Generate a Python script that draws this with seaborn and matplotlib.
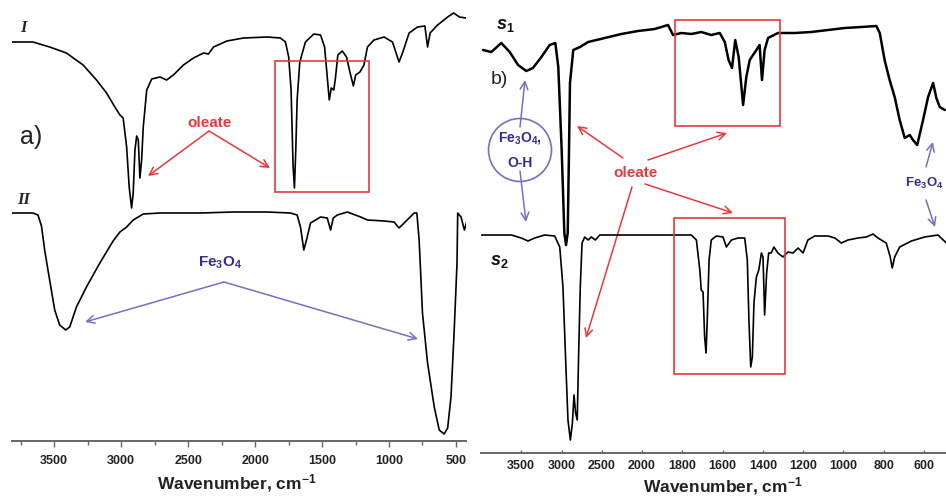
import numpy as np
import matplotlib
matplotlib.use("Agg")
import matplotlib.pyplot as plt
import seaborn as sns
from matplotlib.patches import Rectangle, Ellipse
from matplotlib.ticker import MultipleLocator

# panel a) spectrum I (oleate coated) and II (bare Fe3O4); wavenumber cm-1, transmittance a.u.
wn_I = [3820, 3659, 3534, 3409, 3284, 3184, 3109, 3047, 3009, 2985,
        2959, 2940, 2922, 2910, 2897, 2884, 2872, 2860, 2847, 2835,
        2809, 2772, 2710, 2660, 2610, 2535, 2460, 2385, 2348, 2310,
        2210, 2086, 1910, 1811, 1773, 1749, 1731, 1716, 1706, 1696,
        1686, 1666, 1624, 1561, 1511, 1481, 1461, 1446, 1431, 1412,
        1399, 1382, 1349, 1317, 1292, 1266, 1249, 1217, 1187, 1161,
        1112, 1037, 974, 925, 899, 850, 787, 732, 712, 693,
        637, 562, 517, 475, 425]
tr_I = [399, 399, 394, 388, 376, 361, 348, 334, 326, 323,
        294, 254, 233, 248, 291, 305, 301, 263, 281, 314,
        351, 362, 364, 361, 366, 376, 383, 388, 387, 394,
        400, 403, 404, 403, 399, 384, 351, 274, 253, 291,
        341, 379, 399, 407, 406, 394, 364, 341, 353, 351,
        364, 386, 390, 384, 369, 355, 366, 369, 376, 394,
        401, 404, 399, 379, 388, 408, 414, 415, 394, 408,
        416, 424, 428, 424, 423]

wn_II = [3820, 3659, 3621, 3595, 3570, 3534, 3496, 3459, 3414, 3384,
         3334, 3259, 3159, 3060, 3009, 2959, 2910, 2835, 2710, 2410,
         2161, 1910, 1736, 1686, 1661, 1636, 1616, 1586, 1511, 1461,
         1436, 1416, 1386, 1311, 1212, 1161, 1037, 962, 925, 887,
         812, 792, 775, 767, 750, 712, 662, 625, 588, 562,
         537, 513, 492, 487, 462, 437, 420]
tr_II = [228, 228, 226, 215, 190, 161, 131, 116, 111, 114,
         134, 154, 178, 200, 209, 214, 221, 227, 228, 228,
         229, 229, 228, 226, 214, 191, 201, 218, 224, 223,
         211, 223, 226, 229, 224, 221, 220, 219, 213, 218,
         228, 228, 201, 178, 128, 78, 34, 11, 7, 13,
         44, 111, 178, 228, 224, 211, 219]

# panel b) spectra s1 and s2
wn_s1 = [3975, 3872, 3748, 3643, 3540, 3437, 3355, 3250, 3147, 3077,
         3040, 2998, 2965, 2944, 2923, 2907, 2895, 2854, 2770, 2670,
         2462, 2257, 2050, 1937, 1871, 1846, 1805, 1755, 1706, 1656,
         1614, 1589, 1570, 1553, 1537, 1520, 1498, 1482, 1465, 1432,
         1416, 1404, 1391, 1374, 1325, 1242, 1159, 1076, 993, 911,
         836, 819, 795, 770, 745, 720, 695, 670, 654, 633,
         604, 579, 554, 538, 521, 496]
tr_s1 = [403, 401, 410, 401, 388, 382, 385, 396, 408, 410,
         386, 303, 220, 208, 220, 303, 370, 403, 406, 411,
         415, 419, 422, 424, 428, 418, 420, 419, 421, 418,
         420, 411, 393, 385, 413, 396, 348, 376, 393, 403,
         408, 373, 403, 415, 420, 420, 421, 423, 425, 426,
         427, 420, 393, 373, 356, 333, 315, 318, 313, 308,
         333, 356, 370, 355, 346, 343]

wn_s2 = [3995, 3622, 3500, 3417, 3333, 3210, 3085, 3022, 2982, 2952,
         2920, 2890, 2865, 2845, 2825, 2805, 2787, 2767, 2745, 2712,
         2670, 2630, 2580, 2525, 1987, 1755, 1730, 1713, 1706, 1697,
         1689, 1682, 1676, 1667, 1656, 1631, 1598, 1581, 1556, 1523,
         1490, 1477, 1469, 1460, 1452, 1444, 1432, 1420, 1407, 1399,
         1391, 1381, 1371, 1358, 1345, 1325, 1300, 1275, 1250, 1225,
         1200, 1176, 1142, 1076, 1042, 1010, 977, 927, 886, 853,
         828, 787, 767, 757, 745, 720, 662, 596, 530, 488]
tr_s2 = [218, 218, 215, 212, 215, 218, 217, 206, 166, 100,
         33, 13, 30, 58, 40, 33, 100, 166, 210, 216,
         213, 216, 213, 218, 218, 218, 213, 183, 163, 161,
         116, 100, 133, 193, 213, 217, 216, 206, 213, 215,
         215, 193, 133, 86, 96, 150, 176, 183, 200, 196,
         138, 180, 200, 200, 206, 200, 196, 201, 200, 205,
         200, 213, 217, 217, 215, 210, 213, 215, 216, 219,
         215, 210, 196, 185, 196, 206, 212, 216, 218, 210]

ticks_a = [3500, 3000, 2500, 2000, 1500, 1000, 500]
ticks_b = [3500, 3000, 2500, 2000, 1800, 1600, 1400, 1200, 1000, 800, 600]

sns.set_style("white")
plt.rcParams['font.family'] = ['Liberation Sans', 'DejaVu Sans']
plt.rcParams['mathtext.fontset'] = 'custom'
plt.rcParams['mathtext.rm'] = 'Liberation Sans:bold'
plt.rcParams['mathtext.it'] = 'Liberation Sans:italic:bold'
plt.rcParams['mathtext.bf'] = 'Liberation Sans:bold'

W, H = 946, 497
RED = '#e8383d'
PURPLE = '#3a2a8c'
PURPLE_ARROW = '#7a6cc4'


def fp(x, y):
    # image pixel position -> figure fraction
    return (x / W, 1 - y / H)


fig = plt.figure(figsize=(9.46, 4.97), dpi=100)
ax1 = fig.add_axes([12 / W, 1 - 441 / H, 454 / W, 431 / H])
ax2 = fig.add_axes([481 / W, 1 - 453 / H, 465 / W, 443 / H])

sns.lineplot(x=wn_I, y=tr_I, sort=False, estimator=None, ax=ax1, color='black', lw=1.2)
sns.lineplot(x=wn_II, y=tr_II, sort=False, estimator=None, ax=ax1, color='black', lw=1.2)
sns.lineplot(x=wn_s1, y=tr_s1, sort=False, estimator=None, ax=ax2, color='black', lw=1.8)
sns.lineplot(x=wn_s2, y=tr_s2, sort=False, estimator=None, ax=ax2, color='black', lw=1.2)


# panel b uses an expanded scale below 2000 cm-1
def fwd(w):
    w = np.asarray(w, dtype=float)
    return np.where(w > 2000, 2000 + (w - 2000) * 0.4, w)


def inv(t):
    t = np.asarray(t, dtype=float)
    return np.where(t > 2000, 2000 + (t - 2000) / 0.4, t)


ax2.set_xscale('function', functions=(fwd, inv))

ax1.set_xlim(3815, 425)
ax1.set_ylim(0, 431)
ax2.set_xlim(4000, 490)
ax2.set_ylim(0, 443)

ax1.set_xticks(ticks_a)
ax1.xaxis.set_minor_locator(MultipleLocator(250))
ax2.set_xticks(ticks_b)
ax2.xaxis.set_minor_locator(plt.NullLocator())

for ax in (ax1, ax2):
    ax.set_yticks([])
    ax.set_ylabel('')
    for s in ('top', 'left', 'right'):
        ax.spines[s].set_visible(False)
    ax.spines['bottom'].set_color('#666666')
    ax.spines['bottom'].set_linewidth(1.4)
    ax.set_xlabel('Wavenumber, cm$^{-1}$', fontsize=12.5, fontweight='bold', color='#222222')
    for lab in ax.get_xticklabels():
        lab.set_fontweight('bold')
    ax.patch.set_alpha(0)

ax1.tick_params(axis='x', which='major', direction='out', length=4, width=1,
                color='#666666', labelsize=9, labelcolor='#222222', pad=6, bottom=True)
ax1.tick_params(axis='x', which='minor', direction='out', length=3, width=1,
                color='#666666', bottom=True)
ax2.tick_params(axis='x', which='major', direction='in', length=2, width=1,
                color='#666666', labelsize=9, labelcolor='#222222', pad=5, bottom=True)
ax1.xaxis.set_label_coords(0.495, -0.072)
ax2.xaxis.set_label_coords(0.52, -0.05)

# panel a annotations
fig.text(*fp(23, 28), 'I', family='Liberation Serif', style='italic', fontweight='bold',
         fontsize=12, ha='center', va='center')
fig.text(*fp(24, 200), 'II', family='Liberation Serif', style='italic', fontweight='bold',
         fontsize=12, ha='center', va='center')
fig.text(*fp(31, 137), 'a)', fontsize=18, ha='center', va='center', color='#222222')
fig.text(*fp(210, 123), 'oleate', color=RED, fontsize=11, fontweight='bold',
         ha='center', va='center')
fig.text(*fp(220, 263), 'Fe$_3$O$_4$', color=PURPLE, fontsize=11, fontweight='bold',
         ha='center', va='center')


def arrow(p0, p1, color):
    ax1.annotate('', xy=fp(*p1), xycoords='figure fraction', xytext=fp(*p0),
                 textcoords='figure fraction',
                 arrowprops=dict(arrowstyle='->', color=color, lw=1.1,
                                 mutation_scale=14, shrinkA=0, shrinkB=0))


arrow((209, 131), (148, 176), RED)
arrow((209, 131), (270, 168), RED)
arrow((224, 282), (85, 322), PURPLE_ARROW)
arrow((224, 282), (418, 339), PURPLE_ARROW)


def box(x0, y0, x1, y1):
    fig.add_artist(Rectangle(fp(x0, y1), (x1 - x0) / W, (y1 - y0) / H,
                             transform=fig.transFigure, fill=False, ec=RED, lw=1.2))


box(275, 61, 369, 192)

# panel b annotations
fig.text(*fp(505, 26), '$s_{\\mathit{1}}$', fontsize=13, ha='center', va='center', color='#111111')
fig.text(*fp(499, 262), '$s_{\\mathit{2}}$', fontsize=13, ha='center', va='center', color='#111111')
fig.text(*fp(499, 80), 'b)', fontsize=14, ha='center', va='center', color='#222222')

fig.add_artist(Ellipse(fp(520, 150), 63 / W, 63 / H, transform=fig.transFigure,
                       fill=False, ec=PURPLE_ARROW, lw=1.2))
fig.text(*fp(520, 138), 'Fe$_3$O$_4$,', color=PURPLE, fontsize=10, fontweight='bold',
         ha='center', va='center')
fig.text(*fp(520, 163), 'O-H', color=PURPLE, fontsize=10, fontweight='bold',
         ha='center', va='center')
arrow((520, 127), (525, 80), PURPLE_ARROW)
arrow((520, 171), (526, 222), PURPLE_ARROW)

fig.text(*fp(635, 173), 'oleate', color=RED, fontsize=11, fontweight='bold',
         ha='center', va='center')
arrow((623, 158), (577, 126), RED)
arrow((648, 160), (727, 133), RED)
arrow((645, 184), (733, 213), RED)
arrow((632, 187), (586, 338), RED)

box(675, 20, 780, 126)
box(674, 218, 785, 374)

# label at the right edge, kept just inside the figure
fig.text(*fp(944, 183), 'Fe$_3$O$_4$', color=PURPLE, fontsize=9.5, fontweight='bold',
         ha='right', va='center')
arrow((926, 167), (933, 142), PURPLE_ARROW)
arrow((926, 200), (935, 227), PURPLE_ARROW)

fig.savefig('out.png', dpi=100, facecolor='white')
